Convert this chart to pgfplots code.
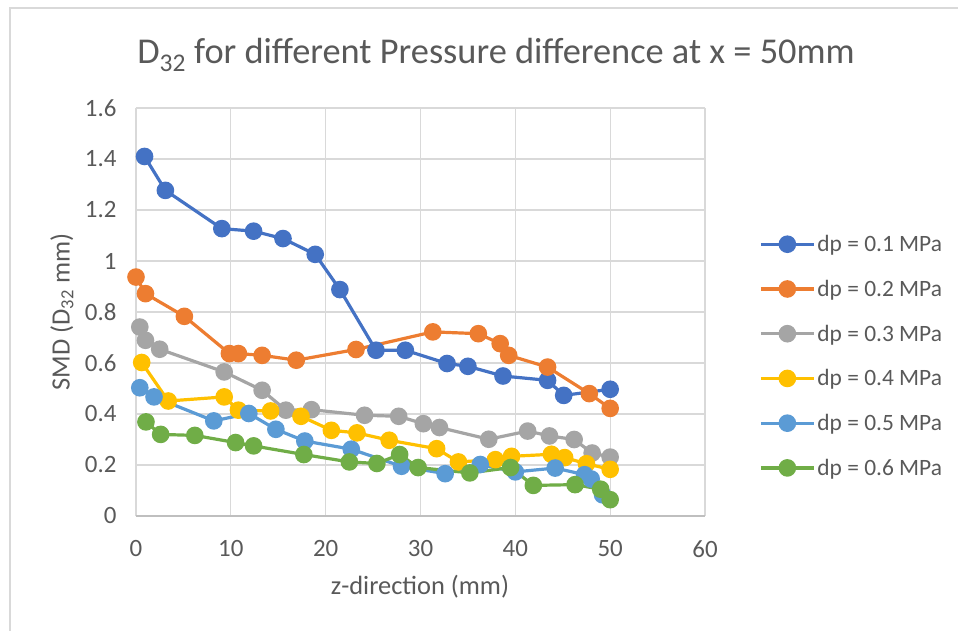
\documentclass[border=0pt]{standalone}
\usepackage{fontspec}
\setmainfont{Carlito}
\usepackage{pgfplots}
\pgfplotsset{compat=1.18}

\definecolor{c1}{HTML}{4472C4}
\definecolor{c2}{HTML}{ED7D31}
\definecolor{c3}{HTML}{A5A5A5}
\definecolor{c4}{HTML}{FFC000}
\definecolor{c5}{HTML}{5B9BD5}
\definecolor{c6}{HTML}{70AD47}
\definecolor{txt}{HTML}{595959}
\definecolor{gridc}{HTML}{D9D9D9}

\begin{document}
\begin{tikzpicture}
\path[use as bounding box] (-136bp,-115bp) rectangle (822bp,516bp);
% chart area border (only left and top visible)
\draw[gridc, line width=1.2bp] (-126bp,-120bp) -- (-126bp,508bp) -- (830bp,508bp);
\begin{axis}[
  at={(0,0)}, anchor=origin,
  scale only axis,
  width=569bp, height=408bp,
  xmin=0, xmax=60, ymin=0, ymax=1.6,
  xtick={0,10,...,60},
  ytick={0,0.2,...,1.6},
  grid=major,
  major grid style={gridc, line width=1.2bp},
  axis line style={draw=none},
  major tick length=0pt,
  /pgf/number format/assume math mode=true,
  ticklabel style={font=\fontsize{25}{29}\selectfont, text=txt},
  xticklabel style={yshift=-21bp},
  yticklabel style={xshift=-16bp},
  clip=false,
  every axis plot/.append style={line width=3.2bp, mark=*, mark size=7.2bp},
  legend style={at={(1.095,0.392)}, anchor=west, draw=none, fill=none,
    font=\fontsize{23.5}{28}\selectfont, text=txt, row sep=23bp,
    inner sep=0pt},
  legend cell align=left,
  legend image code/.code={
    \draw[mark repeat=2,mark phase=2] plot coordinates {(0bp,0bp) (26.5bp,0bp) (53bp,0bp)};
  },
]
\draw[color={rgb,255:red,191;green,191;blue,191}, line width=1.5bp] (rel axis cs:0,0) -- (rel axis cs:1,0);

\addplot[c1, mark options={fill=c1}] coordinates {
(0.9,1.41)(3.1,1.277)(9.05,1.127)(12.4,1.117)(15.5,1.088)(18.9,1.026)(21.5,0.888)(25.3,0.65)(28.4,0.65)(32.8,0.598)(35.0,0.587)(38.7,0.549)(43.4,0.532)(45.1,0.473)(50,0.497)};
\addlegendentry{dp = 0.1 MPa}

\addplot[c2, mark options={fill=c2}] coordinates {
(0,0.937)(1.0,0.872)(5.1,0.783)(9.85,0.637)(10.8,0.637)(13.3,0.63)(16.9,0.611)(23.2,0.653)(31.3,0.722)(36.1,0.715)(38.4,0.676)(39.3,0.63)(43.4,0.584)(47.8,0.48)(50,0.422)};
\addlegendentry{dp = 0.2 MPa}

\addplot[c3, mark options={fill=c3}] coordinates {
(0.4,0.741)(1.0,0.689)(2.5,0.654)(9.3,0.565)(13.3,0.493)(15.8,0.415)(18.5,0.417)(24.1,0.395)(27.7,0.391)(30.3,0.362)(32.0,0.347)(37.2,0.301)(41.3,0.333)(43.6,0.314)(46.2,0.3)(48.1,0.247)(50,0.231)};
\addlegendentry{dp = 0.3 MPa}

\addplot[c4, mark options={fill=c4}] coordinates {
(0.6,0.602)(3.4,0.451)(9.3,0.467)(10.8,0.415)(14.2,0.412)(17.4,0.391)(20.6,0.336)(23.3,0.326)(26.7,0.297)(31.7,0.264)(34.0,0.212)(37.9,0.221)(39.6,0.234)(43.8,0.242)(45.2,0.229)(47.5,0.205)(50,0.183)};
\addlegendentry{dp = 0.4 MPa}

\addplot[c5, mark options={fill=c5}] coordinates {
(0.4,0.503)(1.9,0.467)(8.2,0.373)(11.9,0.402)(14.75,0.34)(17.8,0.294)(22.7,0.262)(28.0,0.195)(32.6,0.166)(36.3,0.202)(40.0,0.173)(44.2,0.188)(47.3,0.162)(48.0,0.145)(49.2,0.083)};
\addlegendentry{dp = 0.5 MPa}

\addplot[c6, mark options={fill=c6}] coordinates {
(1.05,0.369)(2.6,0.32)(6.2,0.316)(10.5,0.288)(12.4,0.275)(17.7,0.241)(22.5,0.212)(25.4,0.206)(27.8,0.241)(29.75,0.19)(35.2,0.169)(39.5,0.19)(41.9,0.12)(46.3,0.123)(49.0,0.105)(50,0.064)};
\addlegendentry{dp = 0.6 MPa}
\end{axis}
% title and axis titles
\node[text=txt, font=\fontsize{36.5}{42}\selectfont] at (360bp,461bp) {D\textsubscript{32} for different Pressure difference at x = 50mm};
\node[text=txt, font=\fontsize{26.5}{31}\selectfont] at (284bp,-71bp) {z-direction (mm)};
\node[text=txt, font=\fontsize{26.5}{31}\selectfont, rotate=90] at (-74bp,204bp) {SMD (D\textsubscript{32} mm)};
\end{tikzpicture}
\end{document}
